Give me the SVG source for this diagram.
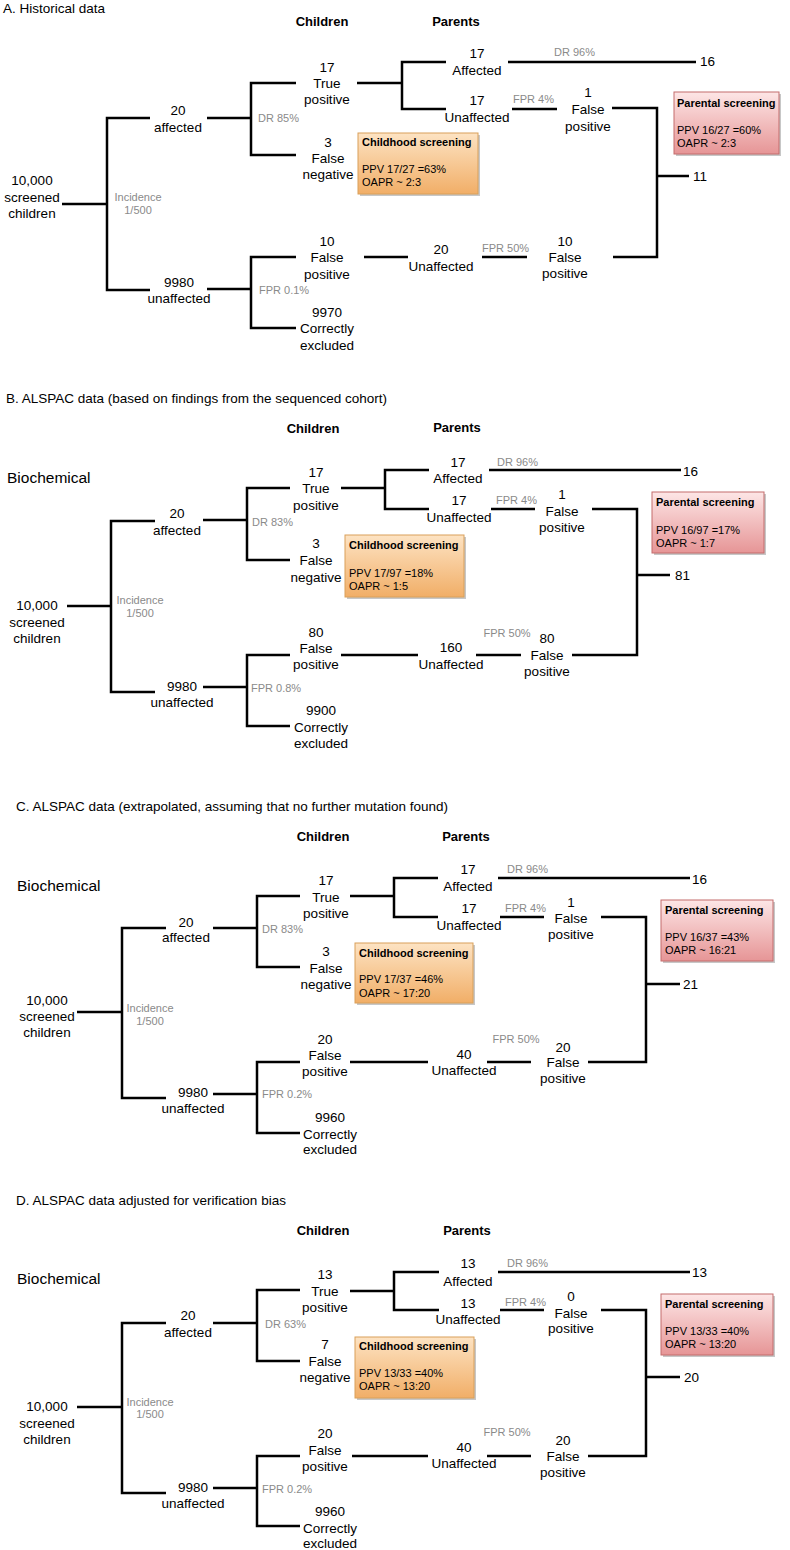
<svg xmlns="http://www.w3.org/2000/svg" width="790" height="1550" viewBox="0 0 790 1550">
<style>
text{font-family:"Liberation Sans",Arial,sans-serif;fill:#000}
.n{font-size:13.5px;text-anchor:middle}
.e{font-size:13.5px}
.g{font-size:11px;fill:#8a8a8a}
.gm{font-size:11px;fill:#8a8a8a;text-anchor:middle}
.t{font-size:13.5px}
.h{font-size:13px;font-weight:bold;text-anchor:middle}
.bio{font-size:15.5px}
.bt{font-size:11px}
.bb{font-size:11px;font-weight:bold}
.c{fill:none;stroke:#000;stroke-width:2.5}
.ob{fill:url(#og);stroke:#d9a05a;stroke-width:1}
.pb{fill:url(#pg);stroke:#c46c6c;stroke-width:1}
.sh{fill:#000;opacity:.22}
</style>
<defs>
<linearGradient id="og" x1="0" y1="0" x2="0" y2="1"><stop offset="0" stop-color="#fde3c3"/><stop offset="1" stop-color="#f1ae67"/></linearGradient>
<linearGradient id="pg" x1="0" y1="0" x2="0" y2="1"><stop offset="0" stop-color="#fde6e6"/><stop offset="1" stop-color="#e69596"/></linearGradient>
</defs>

<!-- ===== Panel A ===== -->
<g id="A-header">
<text class="t" x="3" y="13">A. Historical data</text>
<text class="h" x="322" y="26">Children</text>
<text class="h" x="456" y="26">Parents</text>
</g>
<g id="A-connectors">
<path class="c" d="M62 204H107M150 118H107V290H150"/>
<path class="c" d="M207 118H251M296 83H251V155H296"/>
<path class="c" d="M207 289H251M296 257H251V328H296"/>
<path class="c" d="M357 83H402M446 62H402V109H446"/>
<path class="c" d="M508 62H696"/>
<path class="c" d="M512 109H557"/>
<path class="c" d="M612 108H657V257H613M657 176H689"/>
<path class="c" d="M364 257H408"/>
<path class="c" d="M482 257H527"/>
</g>
<g id="A-labels">
<text class="gm" x="138" y="201">Incidence</text><text class="gm" x="138" y="214">1/500</text>
<text class="g" x="258" y="122">DR 85%</text>
<text class="g" x="259" y="294">FPR 0.1%</text>
<text class="g" x="554" y="56">DR 96%</text>
<text class="g" x="513" y="103">FPR 4%</text>
<text class="g" x="482" y="252">FPR 50%</text>
</g>
<g id="A-root"><text class="n" x="32" y="185">10,000</text><text class="n" x="32" y="202">screened</text><text class="n" x="32" y="218">children</text></g>
<g id="A-affected"><text class="n" x="178" y="115">20</text><text class="n" x="178" y="132">affected</text></g>
<g id="A-unaffected"><text class="n" x="179" y="287">9980</text><text class="n" x="179" y="303">unaffected</text></g>
<g id="A-tp"><text class="n" x="327" y="72">17</text><text class="n" x="327" y="88">True</text><text class="n" x="327" y="104">positive</text></g>
<g id="A-fn"><text class="n" x="328" y="147">3</text><text class="n" x="328" y="163">False</text><text class="n" x="328" y="179">negative</text></g>
<g id="A-fp"><text class="n" x="327" y="246">10</text><text class="n" x="327" y="262">False</text><text class="n" x="327" y="279">positive</text></g>
<g id="A-ce"><text class="n" x="327" y="317">9970</text><text class="n" x="327" y="333">Correctly</text><text class="n" x="327" y="350">excluded</text></g>
<g id="A-paff"><text class="n" x="477" y="58">17</text><text class="n" x="477" y="75">Affected</text></g>
<g id="A-punaff"><text class="n" x="477" y="105">17</text><text class="n" x="477" y="122">Unaffected</text></g>
<g id="A-pfp1"><text class="n" x="588" y="97">1</text><text class="n" x="588" y="114">False</text><text class="n" x="588" y="131">positive</text></g>
<g id="A-p16"><text class="e" x="700" y="66">16</text></g>
<g id="A-p11"><text class="e" x="693" y="181">11</text></g>
<g id="A-punaff2"><text class="n" x="441" y="254">20</text><text class="n" x="441" y="271">Unaffected</text></g>
<g id="A-pfp2"><text class="n" x="565" y="246">10</text><text class="n" x="565" y="262">False</text><text class="n" x="565" y="278">positive</text></g>
<g id="A-childbox"><rect class="sh" x="360" y="135" width="120" height="61"/><rect class="ob" x="358" y="133" width="120" height="61"/>
<text class="bb" x="362" y="146">Childhood screening</text><text class="bt" x="362" y="173">PPV 17/27 =63%</text><text class="bt" x="362" y="186">OAPR ~ 2:3</text></g>
<g id="A-parbox"><rect class="sh" x="676" y="94" width="105" height="62"/><rect class="pb" x="674" y="92" width="105" height="62"/>
<text class="bb" x="677" y="107">Parental screening</text><text class="bt" x="677" y="134">PPV 16/27 =60%</text><text class="bt" x="677" y="147">OAPR ~ 2:3</text></g>

<!-- ===== Panel B ===== -->
<g id="B-header">
<text class="t" x="6" y="403">B. ALSPAC data (based on findings from the sequenced cohort)</text>
<text class="h" x="313" y="433">Children</text>
<text class="h" x="457" y="432">Parents</text>
<text class="bio" x="7" y="483">Biochemical</text>
</g>
<g id="B-connectors">
<path class="c" d="M67 606H111M155 521H111V692H155"/>
<path class="c" d="M203 520H247M290 488H247V560H290"/>
<path class="c" d="M203 687H247M290 655H247V726H290"/>
<path class="c" d="M341 488H385M429 470H385V509H429"/>
<path class="c" d="M489 470H681"/>
<path class="c" d="M491 509H535"/>
<path class="c" d="M592 509H637V655H572M637 575H670"/>
<path class="c" d="M341 655H418"/>
<path class="c" d="M476 655H521"/>
</g>
<g id="B-labels">
<text class="gm" x="140" y="604">Incidence</text><text class="gm" x="140" y="617">1/500</text>
<text class="g" x="252" y="526">DR 83%</text>
<text class="g" x="251" y="692">FPR 0.8%</text>
<text class="g" x="497" y="466">DR 96%</text>
<text class="g" x="496" y="504">FPR 4%</text>
<text class="gm" x="507" y="637">FPR 50%</text>
</g>
<g id="B-root"><text class="n" x="37" y="610">10,000</text><text class="n" x="37" y="627">screened</text><text class="n" x="37" y="643">children</text></g>
<g id="B-affected"><text class="n" x="177" y="518">20</text><text class="n" x="177" y="535">affected</text></g>
<g id="B-unaffected"><text class="n" x="182" y="691">9980</text><text class="n" x="182" y="707">unaffected</text></g>
<g id="B-tp"><text class="n" x="316" y="477">17</text><text class="n" x="316" y="493">True</text><text class="n" x="316" y="510">positive</text></g>
<g id="B-fn"><text class="n" x="316" y="548">3</text><text class="n" x="316" y="565">False</text><text class="n" x="316" y="582">negative</text></g>
<g id="B-fp"><text class="n" x="316" y="637">80</text><text class="n" x="316" y="653">False</text><text class="n" x="316" y="669">positive</text></g>
<g id="B-ce"><text class="n" x="321" y="715">9900</text><text class="n" x="321" y="732">Correctly</text><text class="n" x="321" y="748">excluded</text></g>
<g id="B-paff"><text class="n" x="458" y="467">17</text><text class="n" x="458" y="483">Affected</text></g>
<g id="B-punaff"><text class="n" x="459" y="505">17</text><text class="n" x="459" y="522">Unaffected</text></g>
<g id="B-pfp1"><text class="n" x="562" y="499">1</text><text class="n" x="562" y="516">False</text><text class="n" x="562" y="532">positive</text></g>
<g id="B-p16"><text class="e" x="683" y="476">16</text></g>
<g id="B-p81"><text class="e" x="675" y="580">81</text></g>
<g id="B-punaff2"><text class="n" x="451" y="652">160</text><text class="n" x="451" y="669">Unaffected</text></g>
<g id="B-pfp2"><text class="n" x="547" y="643">80</text><text class="n" x="547" y="660">False</text><text class="n" x="547" y="676">positive</text></g>
<g id="B-childbox"><rect class="sh" x="347" y="537" width="119" height="62"/><rect class="ob" x="345" y="535" width="119" height="62"/>
<text class="bb" x="349" y="549">Childhood screening</text><text class="bt" x="349" y="577">PPV 17/97 =18%</text><text class="bt" x="349" y="590">OAPR ~ 1:5</text></g>
<g id="B-parbox"><rect class="sh" x="654" y="494" width="112" height="61"/><rect class="pb" x="652" y="492" width="112" height="61"/>
<text class="bb" x="656" y="506">Parental screening</text><text class="bt" x="656" y="534">PPV 16/97 =17%</text><text class="bt" x="656" y="547">OAPR ~ 1:7</text></g>

<!-- ===== Panel C ===== -->
<g id="C-header">
<text class="t" x="16" y="811">C. ALSPAC data (extrapolated, assuming that no further mutation found)</text>
<text class="h" x="323" y="841">Children</text>
<text class="h" x="466" y="841">Parents</text>
<text class="bio" x="17" y="891">Biochemical</text>
</g>
<g id="C-connectors">
<path class="c" d="M77 1012H122M166 928H122V1098H166"/>
<path class="c" d="M213 928H257M300 896H257V967H300"/>
<path class="c" d="M213 1094H257M300 1062H257V1133H300"/>
<path class="c" d="M350 896H394M438 878H394V917H438"/>
<path class="c" d="M498 878H690"/>
<path class="c" d="M500 917H544"/>
<path class="c" d="M601 917H646V1062H588M646 984H680"/>
<path class="c" d="M350 1062H428"/>
<path class="c" d="M487 1062H531"/>
</g>
<g id="C-labels">
<text class="gm" x="150" y="1012">Incidence</text><text class="gm" x="150" y="1025">1/500</text>
<text class="g" x="262" y="933">DR 83%</text>
<text class="g" x="262" y="1098">FPR 0.2%</text>
<text class="g" x="507" y="873">DR 96%</text>
<text class="g" x="505" y="912">FPR 4%</text>
<text class="gm" x="516" y="1043">FPR 50%</text>
</g>
<g id="C-root"><text class="n" x="47" y="1005">10,000</text><text class="n" x="47" y="1021">screened</text><text class="n" x="47" y="1037">children</text></g>
<g id="C-affected"><text class="n" x="186" y="927">20</text><text class="n" x="186" y="942">affected</text></g>
<g id="C-unaffected"><text class="n" x="193" y="1097">9980</text><text class="n" x="193" y="1113">unaffected</text></g>
<g id="C-tp"><text class="n" x="326" y="885">17</text><text class="n" x="326" y="902">True</text><text class="n" x="326" y="918">positive</text></g>
<g id="C-fn"><text class="n" x="326" y="956">3</text><text class="n" x="326" y="973">False</text><text class="n" x="326" y="989">negative</text></g>
<g id="C-fp"><text class="n" x="325" y="1044">20</text><text class="n" x="325" y="1060">False</text><text class="n" x="325" y="1076">positive</text></g>
<g id="C-ce"><text class="n" x="330" y="1122">9960</text><text class="n" x="330" y="1139">Correctly</text><text class="n" x="330" y="1154">excluded</text></g>
<g id="C-paff"><text class="n" x="468" y="874">17</text><text class="n" x="468" y="891">Affected</text></g>
<g id="C-punaff"><text class="n" x="469" y="913">17</text><text class="n" x="469" y="930">Unaffected</text></g>
<g id="C-pfp1"><text class="n" x="571" y="907">1</text><text class="n" x="571" y="923">False</text><text class="n" x="571" y="939">positive</text></g>
<g id="C-p16"><text class="e" x="692" y="884">16</text></g>
<g id="C-p21"><text class="e" x="683" y="989">21</text></g>
<g id="C-punaff2"><text class="n" x="464" y="1059">40</text><text class="n" x="464" y="1075">Unaffected</text></g>
<g id="C-pfp2"><text class="n" x="563" y="1052">20</text><text class="n" x="563" y="1067">False</text><text class="n" x="563" y="1083">positive</text></g>
<g id="C-childbox"><rect class="sh" x="357" y="945" width="118" height="60"/><rect class="ob" x="355" y="943" width="118" height="60"/>
<text class="bb" x="359" y="957">Childhood screening</text><text class="bt" x="359" y="983">PPV 17/37 =46%</text><text class="bt" x="359" y="997">OAPR ~ 17:20</text></g>
<g id="C-parbox"><rect class="sh" x="663" y="902" width="112" height="61"/><rect class="pb" x="661" y="900" width="112" height="61"/>
<text class="bb" x="665" y="914">Parental screening</text><text class="bt" x="665" y="941">PPV 16/37 =43%</text><text class="bt" x="665" y="954">OAPR ~ 16:21</text></g>

<!-- ===== Panel D ===== -->
<g id="D-header">
<text class="t" x="16" y="1205">D. ALSPAC data adjusted for verification bias</text>
<text class="h" x="323" y="1235">Children</text>
<text class="h" x="467" y="1235">Parents</text>
<text class="bio" x="17" y="1284">Biochemical</text>
</g>
<g id="D-connectors">
<path class="c" d="M77 1407H122M166 1323H122V1493H166"/>
<path class="c" d="M213 1323H257M300 1290H257V1361H300"/>
<path class="c" d="M213 1488H257M300 1456H257V1526H300"/>
<path class="c" d="M350 1291H394M439 1272H394V1310H439"/>
<path class="c" d="M498 1272H690"/>
<path class="c" d="M500 1310H544"/>
<path class="c" d="M601 1310H646V1456H588M646 1377H680"/>
<path class="c" d="M352 1456H428"/>
<path class="c" d="M487 1456H531"/>
</g>
<g id="D-labels">
<text class="gm" x="150" y="1406">Incidence</text><text class="gm" x="150" y="1418">1/500</text>
<text class="g" x="265" y="1328">DR 63%</text>
<text class="g" x="262" y="1493">FPR 0.2%</text>
<text class="g" x="507" y="1267">DR 96%</text>
<text class="g" x="505" y="1306">FPR 4%</text>
<text class="gm" x="507" y="1436">FPR 50%</text>
</g>
<g id="D-root"><text class="n" x="47" y="1411">10,000</text><text class="n" x="47" y="1428">screened</text><text class="n" x="47" y="1444">children</text></g>
<g id="D-affected"><text class="n" x="188" y="1320">20</text><text class="n" x="188" y="1337">affected</text></g>
<g id="D-unaffected"><text class="n" x="193" y="1492">9980</text><text class="n" x="193" y="1508">unaffected</text></g>
<g id="D-tp"><text class="n" x="325" y="1279">13</text><text class="n" x="325" y="1296">True</text><text class="n" x="325" y="1312">positive</text></g>
<g id="D-fn"><text class="n" x="325" y="1349">7</text><text class="n" x="325" y="1366">False</text><text class="n" x="325" y="1382">negative</text></g>
<g id="D-fp"><text class="n" x="325" y="1438">20</text><text class="n" x="325" y="1455">False</text><text class="n" x="325" y="1471">positive</text></g>
<g id="D-ce"><text class="n" x="330" y="1516">9960</text><text class="n" x="330" y="1533">Correctly</text><text class="n" x="330" y="1548">excluded</text></g>
<g id="D-paff"><text class="n" x="468" y="1268">13</text><text class="n" x="468" y="1286">Affected</text></g>
<g id="D-punaff"><text class="n" x="468" y="1308">13</text><text class="n" x="468" y="1324">Unaffected</text></g>
<g id="D-pfp1"><text class="n" x="571" y="1301">0</text><text class="n" x="571" y="1318">False</text><text class="n" x="571" y="1333">positive</text></g>
<g id="D-p13"><text class="e" x="692" y="1277">13</text></g>
<g id="D-p20"><text class="e" x="684" y="1382">20</text></g>
<g id="D-punaff2"><text class="n" x="464" y="1452">40</text><text class="n" x="464" y="1468">Unaffected</text></g>
<g id="D-pfp2"><text class="n" x="563" y="1445">20</text><text class="n" x="563" y="1461">False</text><text class="n" x="563" y="1477">positive</text></g>
<g id="D-childbox"><rect class="sh" x="357" y="1339" width="119" height="61"/><rect class="ob" x="355" y="1337" width="119" height="61"/>
<text class="bb" x="359" y="1350">Childhood screening</text><text class="bt" x="359" y="1377">PPV 13/33 =40%</text><text class="bt" x="359" y="1390">OAPR ~ 13:20</text></g>
<g id="D-parbox"><rect class="sh" x="663" y="1296" width="112" height="61"/><rect class="pb" x="661" y="1294" width="112" height="61"/>
<text class="bb" x="665" y="1308">Parental screening</text><text class="bt" x="665" y="1335">PPV 13/33 =40%</text><text class="bt" x="665" y="1348">OAPR ~ 13:20</text></g>
</svg>
